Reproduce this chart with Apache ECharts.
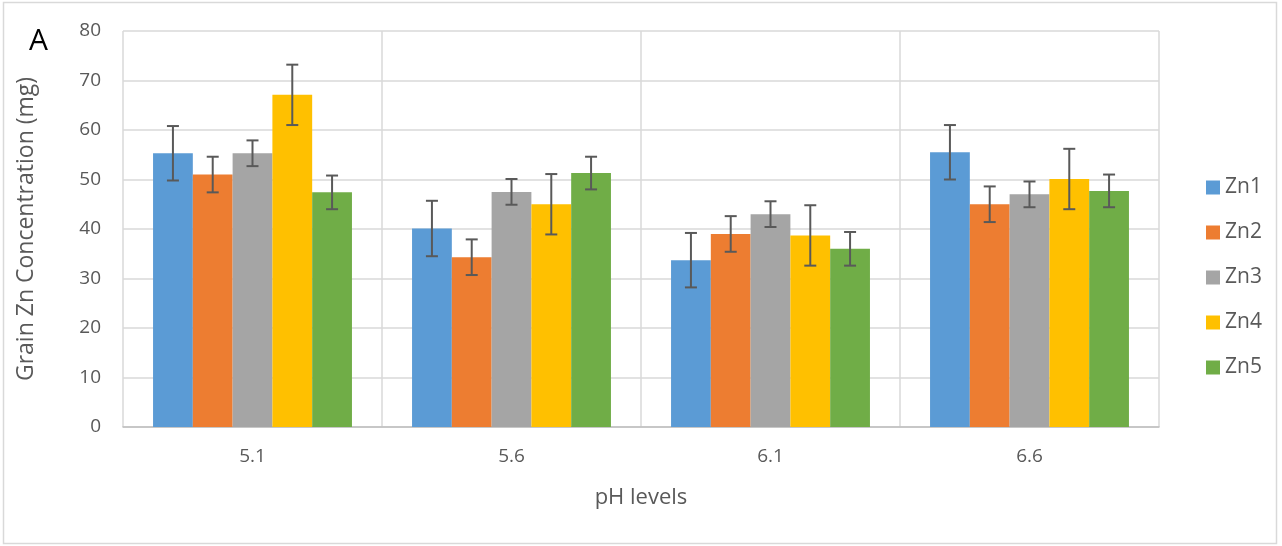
<!DOCTYPE html>
<html>
<head>
<meta charset="utf-8">
<script src="https://cdn.jsdelivr.net/npm/echarts@6/dist/echarts.min.js"></script>
<style>
  html, body { margin: 0; padding: 0; background: #fff; }
  #chart { width: 1282px; height: 546px; }
</style>
</head>
<body>
<div id="chart"></div>
<script>
// pH levels on the category axis
const categories = ['5.1', '5.6', '6.1', '6.6'];
const seriesNames = ['Zn1', 'Zn2', 'Zn3', 'Zn4', 'Zn5'];

// Grain Zn concentration (mg), one array per Zn treatment
const zn1 = [55.3, 40.1, 33.7, 55.5];
const zn2 = [51.0, 34.3, 39.0, 45.0];
const zn3 = [55.3, 47.5, 43.0, 47.0];
const zn4 = [67.1, 45.0, 38.7, 50.1];
const zn5 = [47.4, 51.3, 36.0, 47.7];

// Error bar half-lengths
const zn1Err = [5.5, 5.6, 5.5, 5.5];
const zn2Err = [3.6, 3.6, 3.6, 3.6];
const zn3Err = [2.6, 2.6, 2.6, 2.6];
const zn4Err = [6.1, 6.1, 6.1, 6.1];
const zn5Err = [3.4, 3.3, 3.4, 3.3];

const yTicks = { min: 0, max: 80, interval: 10 };

const values = [zn1, zn2, zn3, zn4, zn5];
const errors = [zn1Err, zn2Err, zn3Err, zn4Err, zn5Err];
const colors = ['#5b9bd5', '#ed7d31', '#a5a5a5', '#ffc000', '#70ad47'];

const FONT = '"Open Sans", "Noto Sans", sans-serif';
const CAT_GAP = 0.232;
const nSeries = seriesNames.length;

const barSeries = seriesNames.map((name, i) => ({
  name: name,
  type: 'bar',
  data: values[i],
  barGap: '0%',
  barCategoryGap: (CAT_GAP * 100) + '%',
  itemStyle: { color: colors[i] },
  z: 2
}));

// Whiskers drawn on top of each bar of the group
const errorSeries = seriesNames.map((name, i) => ({
  type: 'custom',
  name: name + ' error',
  z: 5,
  silent: true,
  data: categories.map((c, k) => [k, values[i][k], errors[i][k]]),
  encode: { x: 0, y: 1 },
  renderItem: function (params, api) {
    const k = api.value(0);
    const v = api.value(1);
    const e = api.value(2);
    const band = api.size([1, 0])[0];
    const barW = band * (1 - CAT_GAP) / nSeries;
    const c = api.coord([k, v]);
    const x = c[0] + (i - (nSeries - 1) / 2) * barW;
    const yTop = api.coord([k, v + e])[1];
    const yBot = api.coord([k, v - e])[1];
    const cap = 6;
    const style = { stroke: '#595959', lineWidth: 2, fill: null };
    return {
      type: 'group',
      children: [
        { type: 'line', shape: { x1: x, y1: yTop, x2: x, y2: yBot }, style: style },
        { type: 'line', shape: { x1: x - cap, y1: yTop, x2: x + cap, y2: yTop }, style: style },
        { type: 'line', shape: { x1: x - cap, y1: yBot, x2: x + cap, y2: yBot }, style: style }
      ]
    };
  }
}));

const chart = echarts.init(document.getElementById('chart'), null, { renderer: 'canvas' });

chart.setOption({
  animation: false,
  backgroundColor: '#ffffff',
  textStyle: { fontFamily: FONT },
  grid: { left: 123, right: 123, top: 31, bottom: 119, containLabel: false },
  legend: {
    data: seriesNames,
    orient: 'vertical',
    left: 1201,
    top: 172,
    itemWidth: 14,
    itemHeight: 14,
    itemGap: 24,
    icon: 'rect',
    textStyle: { color: '#595959', fontSize: 21, fontFamily: FONT }
  },
  xAxis: {
    type: 'category',
    data: categories,
    boundaryGap: true,
    name: 'pH levels',
    nameLocation: 'middle',
    nameGap: 60,
    nameTextStyle: { color: '#595959', fontSize: 22, fontFamily: FONT },
    axisLine: { show: true, lineStyle: { color: '#bfbfbf', width: 1.5 } },
    axisTick: { show: false },
    axisLabel: { color: '#595959', fontSize: 19, margin: 20, fontFamily: FONT },
    splitLine: { show: true, lineStyle: { color: '#d9d9d9', width: 1.5 } }
  },
  yAxis: {
    type: 'value',
    min: yTicks.min,
    max: yTicks.max,
    interval: yTicks.interval,
    name: 'Grain Zn Concentration (mg)',
    nameLocation: 'middle',
    nameGap: 85,
    nameTextStyle: { color: '#595959', fontSize: 23, fontFamily: FONT },
    axisLine: { show: false },
    axisTick: { show: false },
    axisLabel: { color: '#595959', fontSize: 19, margin: 22, fontFamily: FONT },
    splitLine: { show: true, lineStyle: { color: '#d9d9d9', width: 1.5 } }
  },
  graphic: [
    {
      type: 'rect',
      silent: true,
      shape: { x: 3.5, y: 2.5, width: 1273, height: 541 },
      style: { fill: null, stroke: '#d9d9d9', lineWidth: 1.5 }
    },
    {
      type: 'text',
      left: 29,
      top: 26,
      style: { text: 'A', fill: '#000000', fontSize: 30, fontFamily: FONT }
    }
  ],
  series: barSeries.concat(errorSeries)
});
</script>
</body>
</html>
